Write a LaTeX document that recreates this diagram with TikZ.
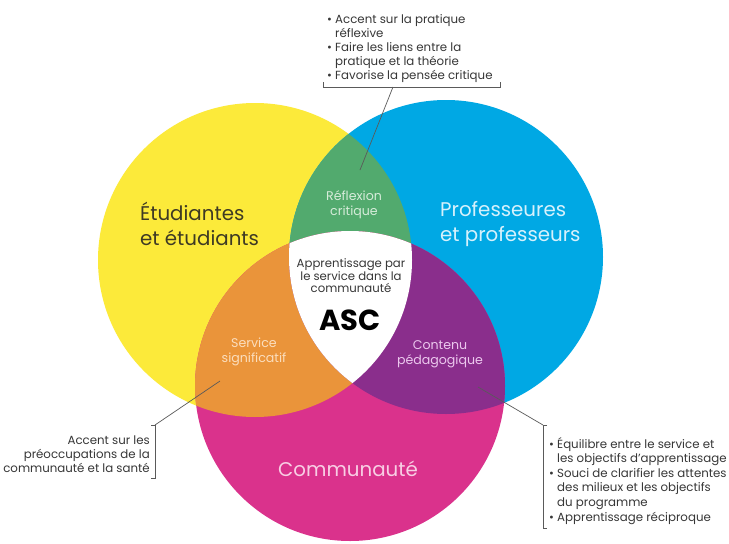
\documentclass[tikz,border=0pt]{standalone}
\usepackage{fontspec}
\setmainfont{Poppins}
\definecolor{cyellow}{RGB}{252,234,58}
\definecolor{cblue}{RGB}{0,168,228}
\definecolor{cmag}{RGB}{218,50,140}
\definecolor{cgreen}{RGB}{82,170,110}
\definecolor{corange}{RGB}{234,148,58}
\definecolor{cpurple}{RGB}{138,46,140}
\definecolor{tyellow}{RGB}{62,58,36}
\definecolor{tblue}{RGB}{214,241,252}
\definecolor{tmag}{RGB}{248,206,228}
\definecolor{tgreen}{RGB}{214,236,218}
\definecolor{torange}{RGB}{251,222,190}
\definecolor{tpurple}{RGB}{236,200,238}
\definecolor{notegray}{RGB}{55,55,55}
\definecolor{linegray}{RGB}{90,90,90}
\begin{document}
\begin{tikzpicture}[x=1pt,y=-1pt,
  biglbl/.style={inner sep=0pt, align=left, font=\fontsize{19.8}{25}\selectfont},
  lenslbl/.style={inner sep=0pt, align=center, font=\fontsize{12.6}{14.5}\selectfont},
  note/.style={inner sep=0pt, text=notegray},
  brk/.style={draw=linegray, line width=0.7pt},
]
\useasboundingbox (0,0) rectangle (729,544);
\fill[white] (0,0) rectangle (729,544);
\coordinate (Y) at (255,260);
\coordinate (B) at (446,257);
\coordinate (M) at (350,386);
% circles
\fill[cyellow] (Y) circle[radius=157pt];
\fill[cblue] (B) circle[radius=157pt];
\fill[cmag] (M) circle[radius=155pt];
\begin{scope}
  \clip (Y) circle[radius=157pt];
  \fill[cgreen] (B) circle[radius=157pt];
  \fill[corange] (M) circle[radius=155pt];
\end{scope}
\begin{scope}
  \clip (B) circle[radius=157pt];
  \fill[cpurple] (M) circle[radius=155pt];
\end{scope}
\begin{scope}
  \clip (Y) circle[radius=157pt];
  \clip (B) circle[radius=157pt];
  \fill[white] (M) circle[radius=155pt];
\end{scope}
% main labels
\node[biglbl, text=tyellow, anchor=west] (stud) at (140,223.5) {Étudiantes\\et étudiants};
\node[biglbl, text=tblue, anchor=west] (prof) at (440,224.5) {Professeures\\et professeurs};
\node[biglbl, text=tmag] (comm) at (348,469) {Communauté};
% lens labels
\node[lenslbl, text=tgreen] (refl) at (354,204.5) {Réflexion\\critique};
\node[lenslbl, text=torange] (serv) at (254,352) {Service\\significatif};
\node[lenslbl, text=tpurple] (cont) at (440,354) {Contenu\\pédagogique};
\node[inner sep=0pt, align=center, text=notegray, font=\fontsize{11.7}{12}\selectfont] (asc1) at (351,276) {Apprentissage par\\le service dans la\\communauté};
\node[inner sep=0pt, text=black, font=\fontsize{29}{30}\selectfont\bfseries] (asc) at (350,320) {ASC};
% annotations
\node[note, anchor=north west, align=left, font=\fontsize{11.8}{14}\selectfont] (ntop) at (327,14)
  {• Accent sur la pratique\\\hphantom{• }réflexive\\• Faire les liens entre la\\\hphantom{• }pratique et la théorie\\• Favorise la pensée critique};
\node[note, anchor=north east, align=right, font=\fontsize{11.8}{14}\selectfont] (nleft) at (150,436)
  {Accent sur les\\préoccupations de la\\communauté et la santé};
\node[note, anchor=north west, align=left, font=\fontsize{11.8}{14.6}\selectfont] (nright) at (549,437)
  {• Équilibre entre le service et\\\hphantom{• }les objectifs d’apprentissage\\• Souci de clarifier les attentes\\\hphantom{• }des milieux et les objectifs\\\hphantom{• }du programme\\• Apprentissage réciproque};
% brackets and connectors
\coordinate (tbL) at (323,87); \coordinate (tbR) at (500,87);
\coordinate (tbM) at (393,87); \coordinate (tEnd) at (360,170);
\draw[brk] ([yshift=5pt]tbL) -- (tbL) -- (tbR) -- ([yshift=5pt]tbR);
\draw[brk] (tbM) -- (tEnd);
\coordinate (lbT) at (155,425); \coordinate (lbB) at (155,478); \coordinate (lEnd) at (220,381);
\draw[brk] ([xshift=-4pt]lbT) -- (lbT) -- (lbB) -- ([xshift=-4pt]lbB);
\draw[brk] (lbT) -- (lEnd);
\coordinate (rbT) at (543,425); \coordinate (rbB) at (543,528); \coordinate (rEnd) at (478,387);
\draw[brk] ([xshift=4pt]rbT) -- (rbT) -- (rbB) -- ([xshift=4pt]rbB);
\draw[brk] (rbT) -- (rEnd);
\end{tikzpicture}
\end{document}
